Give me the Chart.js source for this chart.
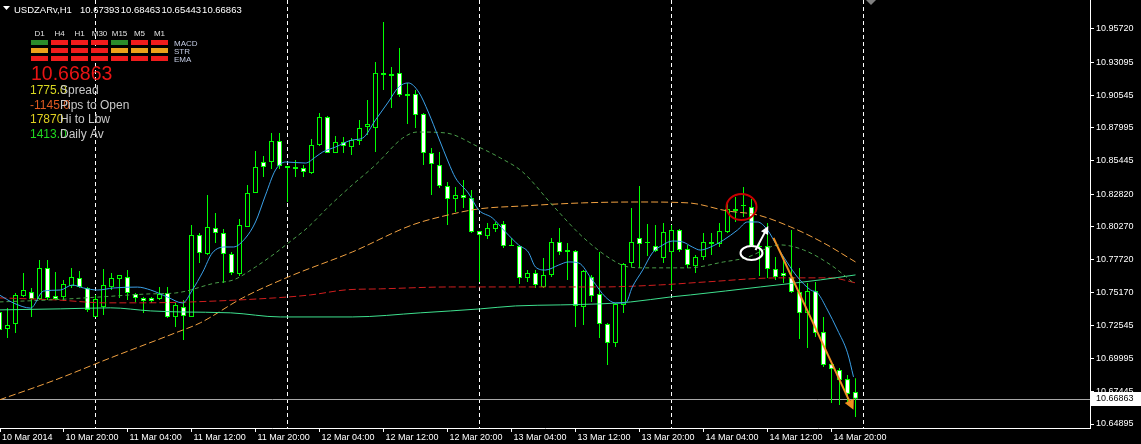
<!DOCTYPE html>
<html>
<head>
<meta charset="utf-8">
<script src="https://cdn.jsdelivr.net/npm/chart.js@4.4.1/dist/chart.umd.min.js"></script>
<style>
  html, body { margin: 0; padding: 0; background: #000; }
  #wrap { width: 1141px; height: 444px; }
</style>
</head>
<body>
<div id="wrap"><canvas id="chart" width="1141" height="444"></canvas></div>
<script>
// USDZARv H1, one value per hourly bar (bar 0 = 10 Mar 12:00)
const opens = [
  10.7363, 10.7231, 10.7270, 10.7488, 10.7519, 10.7465, 10.7707, 10.7488, 10.7480, 10.7566,
  10.7629, 10.7551, 10.7324, 10.7402, 10.7558, 10.7621, 10.7636, 10.7504, 10.7473, 10.7473,
  10.7465, 10.7512, 10.7324, 10.7402, 10.7324, 10.7964, 10.7816, 10.8019, 10.7980, 10.7816,
  10.7660, 10.8027, 10.8292, 10.8534, 10.8534, 10.8698, 10.8503, 10.8495, 10.8487, 10.8448,
  10.8667, 10.8885, 10.8604, 10.8690, 10.8651, 10.8698, 10.8807, 10.8799, 10.9229, 10.9221,
  10.9229, 10.9065, 10.9065, 10.8909, 10.8604, 10.8510, 10.8347, 10.8245, 10.8276, 10.8253,
  10.7995, 10.7956, 10.8011, 10.8050, 10.7886, 10.7878, 10.7629, 10.7668, 10.7558, 10.7652,
  10.7910, 10.7847, 10.7839, 10.7402, 10.7636, 10.7504, 10.7270, 10.7122, 10.7418, 10.7746,
  10.7941, 10.7910, 10.7878, 10.7785, 10.7831, 10.8003, 10.7855, 10.7722, 10.7792, 10.7910,
  10.7894, 10.7988, 10.8152, 10.8198, 10.8183, 10.7878, 10.7878, 10.7699, 10.7668, 10.7636,
  10.7519, 10.7355, 10.7527, 10.7207, 10.6957, 10.6911, 10.6840, 10.67393
];
const highs = [
  10.7457, 10.7394, 10.7512, 10.7668, 10.7551, 10.7769, 10.7769, 10.7675, 10.7613, 10.7707,
  10.7683, 10.7558, 10.7496, 10.7699, 10.7668, 10.7652, 10.7691, 10.7512, 10.7480, 10.7480,
  10.7558, 10.7558, 10.7434, 10.7457, 10.8042, 10.7980, 10.8276, 10.8136, 10.8011, 10.7831,
  10.8089, 10.8354, 10.8620, 10.8581, 10.8760, 10.8760, 10.8503, 10.8549, 10.8510, 10.8713,
  10.8916, 10.8893, 10.8737, 10.8729, 10.8721, 10.8862, 10.9018, 10.9314, 10.9626, 10.9275,
  10.9424, 10.9151, 10.9096, 10.8916, 10.8643, 10.8612, 10.8378, 10.8339, 10.8393, 10.8315,
  10.7995, 10.8058, 10.8066, 10.8073, 10.7941, 10.7886, 10.7691, 10.7691, 10.7785, 10.7941,
  10.8019, 10.7902, 10.7847, 10.7691, 10.7652, 10.7831, 10.7278, 10.7434, 10.7746, 10.8175,
  10.8347, 10.8050, 10.8042, 10.8058, 10.8042, 10.8011, 10.7886, 10.7808, 10.7980, 10.7980,
  10.8058, 10.8222, 10.8261, 10.8339, 10.8245, 10.7917, 10.8058, 10.7792, 10.7792, 10.8003,
  10.7707, 10.7590, 10.7598, 10.7324, 10.6965, 10.6926, 10.6872, 10.68463
];
const lows = [
  10.7160, 10.7160, 10.7200, 10.7480, 10.7324, 10.7457, 10.7457, 10.7457, 10.7449, 10.7551,
  10.7551, 10.7363, 10.7324, 10.7340, 10.7535, 10.7473, 10.7457, 10.7441, 10.7355, 10.7434,
  10.7457, 10.7317, 10.7246, 10.7145, 10.7324, 10.7746, 10.7808, 10.7902, 10.7590, 10.7652,
  10.7644, 10.8027, 10.8292, 10.8417, 10.8479, 10.8479, 10.8222, 10.8417, 10.8417, 10.8440,
  10.8659, 10.8604, 10.8604, 10.8604, 10.8588, 10.8667, 10.8745, 10.8612, 10.9096, 10.8955,
  10.9041, 10.8830, 10.8799, 10.8510, 10.8276, 10.8331, 10.8042, 10.8144, 10.8175, 10.7980,
  10.7598, 10.7933, 10.7988, 10.7863, 10.7878, 10.7582, 10.7598, 10.7551, 10.7551, 10.7636,
  10.7808, 10.7613, 10.7246, 10.7262, 10.7441, 10.7160, 10.6950, 10.7090, 10.7355, 10.7715,
  10.7707, 10.7800, 10.7831, 10.7746, 10.7535, 10.7831, 10.7707, 10.7668, 10.7769, 10.7808,
  10.7871, 10.7980, 10.8066, 10.8105, 10.7871, 10.7644, 10.7629, 10.7613, 10.7590, 10.7512,
  10.7153, 10.7082, 10.7168, 10.6934, 10.6653, 10.6638, 10.6653, 10.65443
];
const closes = [
  10.7223, 10.7262, 10.7496, 10.7535, 10.7465, 10.7707, 10.7473, 10.7465, 10.7582, 10.7636,
  10.7558, 10.7379, 10.7465, 10.7574, 10.7629, 10.7652, 10.7512, 10.7473, 10.7449, 10.7449,
  10.7504, 10.7324, 10.7418, 10.7332, 10.7964, 10.7824, 10.8027, 10.7980, 10.7816, 10.7668,
  10.8042, 10.8292, 10.8495, 10.8495, 10.8698, 10.8503, 10.8487, 10.8479, 10.8456, 10.8667,
  10.8885, 10.8604, 10.8690, 10.8659, 10.8706, 10.8799, 10.8830, 10.9229, 10.9213, 10.9205,
  10.9057, 10.9049, 10.8901, 10.8604, 10.8518, 10.8347, 10.8245, 10.8276, 10.8253, 10.7988,
  10.7964, 10.8019, 10.8050, 10.7878, 10.7878, 10.7629, 10.7668, 10.7574, 10.7652, 10.7910,
  10.7831, 10.7831, 10.7410, 10.7683, 10.7488, 10.7270, 10.7122, 10.7426, 10.7738, 10.7910,
  10.7894, 10.7902, 10.7839, 10.7988, 10.8003, 10.7847, 10.7730, 10.7792, 10.7910, 10.7894,
  10.7995, 10.8167, 10.8167, 10.8190, 10.7878, 10.7871, 10.7699, 10.7636, 10.7644, 10.7519,
  10.7355, 10.7527, 10.7200, 10.6950, 10.6918, 10.6833, 10.6724, 10.66863
];

const timeLabels = ['10 Mar 2014', '10 Mar 20:00', '11 Mar 04:00', '11 Mar 12:00', '11 Mar 20:00',
  '12 Mar 04:00', '12 Mar 12:00', '12 Mar 20:00', '13 Mar 04:00', '13 Mar 12:00', '13 Mar 20:00',
  '14 Mar 04:00', '14 Mar 12:00', '14 Mar 20:00'];
const timeTickBars = [0.0625, 8, 16, 24, 32, 40, 48, 56, 64, 72, 80, 88, 96, 104];
const priceTicks = [10.95720, 10.93095, 10.90545, 10.87995, 10.85445, 10.82820, 10.80270,
  10.77720, 10.75170, 10.72545, 10.69995, 10.67445, 10.64895];
const daySeparators = [12, 36, 60, 84, 108];
const lastPrice = 10.66863;
const headerValues = ['10.67393', '10.68463', '10.65443', '10.66863'];

// moving averages, read as [bar, price]
const maFast = [[0,10.7496],[1.75,10.7434],[3.9,10.7394],[5.5,10.7527],[7.6,10.7535],[9.1,10.7574],
  [10.5,10.7551],[12.25,10.7535],[14.25,10.7551],[17.25,10.7558],[18.9,10.7535],[21,10.7480],
  [22.9,10.7434],[24.1,10.7535],[25.4,10.7675],[26.6,10.7824],[28.25,10.7871],[29.25,10.7871],
  [30.75,10.7941],[32,10.8066],[33.25,10.8276],[34.5,10.8472],[35.75,10.8534],[38.25,10.8526],
  [39.5,10.8573],[40.4,10.8612],[42,10.8651],[44.1,10.8706],[45.4,10.8721],[47,10.8862],
  [48.6,10.9002],[49.9,10.9119],[51.1,10.9151],[52.4,10.9080],[53.6,10.8924],[54.9,10.8721],
  [56.1,10.8534],[57,10.8410],[58.6,10.8292],[59.9,10.8160],[61.6,10.8098],[63.25,10.7988],
  [64.9,10.7886],[66.1,10.7831],[67,10.7715],[68.25,10.7691],[69.9,10.7730],[71.1,10.7754],
  [72.4,10.7746],[74.1,10.7613],[75.75,10.7480],[77,10.7434],[78.25,10.7434],[79.1,10.7558],
  [80.4,10.7691],[81.6,10.7824],[82.9,10.7886],[84.1,10.7917],[85.4,10.7910],[86.6,10.7871],
  [87.6,10.7847],[88.9,10.7871],[90.5,10.7925],[92.25,10.8003],[93.5,10.8066],[94.75,10.8066],
  [96,10.8003],[97.25,10.7871],[98.5,10.7746],[99.75,10.7636],[101.4,10.7535],[102.25,10.7512],
  [103.5,10.7379],[104.75,10.7223],[106,10.7045],[106.75,10.6857]];
const maMid = [[0,10.7442],[6.4,10.7458],[12.6,10.7481],[18.9,10.7505],[22,10.7512],[27,10.7590],
  [29.25,10.7614],[32,10.7715],[34.5,10.7824],[36.1,10.7902],[38.6,10.8027],[41.1,10.8183],
  [44.1,10.8355],[47,10.8511],[50.4,10.8721],[52.25,10.8768],[55.75,10.8761],[59.9,10.8651],
  [62.6,10.8566],[65.4,10.8456],[69.1,10.8199],[72.9,10.7949],[76.6,10.7770],[78.6,10.7715],
  [80.75,10.7708],[86.1,10.7708],[90.5,10.7754],[93.25,10.7786],[97.6,10.7887],[100.5,10.7848],
  [103.9,10.7731],[106.75,10.7591]];
const maLong = [[0,10.7380],[7.6,10.7388],[13.9,10.7396],[18.9,10.7372],[22.6,10.7364],[28.9,10.7357],
  [35.1,10.7325],[44.1,10.7325],[52.6,10.7357],[60.1,10.7388],[64.5,10.7411],[70.1,10.7419],
  [75.1,10.7427],[78.9,10.7442],[83.9,10.7481],[86.4,10.7497],[95.1,10.7559],[102.6,10.7614],
  [107,10.7653]];
const maRed = [[0,10.7474],[7,10.7458],[13.25,10.7435],[17.6,10.7435],[23.9,10.7442],[34.5,10.7474],
  [38.9,10.7497],[43.25,10.7536],[47.6,10.7544],[56.4,10.7559],[65.1,10.7559],[75.1,10.7559],
  [82.6,10.7575],[88.25,10.7598],[97.6,10.7630],[103.9,10.7630],[107,10.7591]];
const maOrange = [[0,10.6678],[7,10.6834],[13.9,10.7006],[22,10.7201],[25.1,10.7279],[30.4,10.7474],
  [36.1,10.7637],[44.1,10.7832],[51.6,10.8043],[56.1,10.8121],[59.9,10.8168],[65.4,10.8191],
  [72.9,10.8215],[79.9,10.8222],[86.1,10.8215],[91,10.8152],[94.75,10.8121],[98.9,10.8027],
  [103,10.7903],[107,10.7754]];

// indicator panel
const tfLabels = ['D1', 'H4', 'H1', 'M30', 'M15', 'M5', 'M1'];
const signalNames = ['MACD', 'STR', 'EMA'];
const signalRows = [
  ['g', 'r', 'r', 'r', 'g', 'r', 'r'],
  ['o', 'r', 'r', 'r', 'o', 'o', 'o'],
  ['r', 'r', 'r', 'r', 'r', 'r', 'r']
];
const infoRows = [
  ['1775.0', 'Spread', '#d8d820'],
  ['-1145.0', 'Pips to Open', '#e05a20'],
  ['17870', 'Hi to Lbw', '#e0d020'],
  ['1413.0', 'Daily Av', '#20d820']
];

const FONT = '"Liberation Sans", Arial, sans-serif';
const bars = opens.map((o, i) => i);

function arrow(ctx, x1, y1, x2, y2, color, width, head) {
  const a = Math.atan2(y2 - y1, x2 - x1);
  ctx.strokeStyle = color;
  ctx.lineWidth = width;
  ctx.beginPath();
  ctx.moveTo(x1, y1);
  ctx.lineTo(x2 - Math.cos(a) * head * 0.8, y2 - Math.sin(a) * head * 0.8);
  ctx.stroke();
  ctx.fillStyle = color;
  ctx.beginPath();
  ctx.moveTo(x2, y2);
  ctx.lineTo(x2 - head * Math.cos(a) + head * 0.5 * Math.sin(a), y2 - head * Math.sin(a) - head * 0.5 * Math.cos(a));
  ctx.lineTo(x2 - head * Math.cos(a) - head * 0.5 * Math.sin(a), y2 - head * Math.sin(a) + head * 0.5 * Math.cos(a));
  ctx.closePath();
  ctx.fill();
}

const mt4Deco = {
  id: 'mt4Deco',
  beforeDatasetsDraw(chart) {
    const {ctx, chartArea, scales} = chart;
    ctx.save();
    // day separators
    ctx.strokeStyle = '#ffffff';
    ctx.lineWidth = 1;
    ctx.setLineDash([4, 3]);
    for (const b of daySeparators) {
      const x = Math.round(scales.x.getPixelForValue(b) - 0.5) + 0.5;
      ctx.beginPath();
      ctx.moveTo(x, chartArea.top);
      ctx.lineTo(x, chartArea.bottom);
      ctx.stroke();
    }
    ctx.setLineDash([]);
    // bid line
    const yb = Math.round(scales.y.getPixelForValue(lastPrice)) + 0.5;
    ctx.strokeStyle = '#a8a8a8';
    ctx.beginPath();
    ctx.moveTo(chartArea.left, yb);
    ctx.lineTo(chartArea.right, yb);
    ctx.stroke();
    ctx.restore();
  },
  afterDatasetsDraw(chart) {
    const {ctx, scales} = chart;
    const X = v => scales.x.getPixelForValue(v);
    const Y = v => scales.y.getPixelForValue(v);
    ctx.save();
    // red circle round the top
    ctx.strokeStyle = '#c80000';
    ctx.lineWidth = 2;
    ctx.beginPath();
    ctx.ellipse(X(92.75), Y(10.8183), 15, 13, 0, 0, Math.PI * 2);
    ctx.stroke();
    // white ellipse
    ctx.strokeStyle = '#ffffff';
    ctx.beginPath();
    ctx.ellipse(X(94), Y(10.7824), 11, 7, 0, 0, Math.PI * 2);
    ctx.stroke();
    arrow(ctx, X(94.5), Y(10.7848), X(96.1), Y(10.8035), '#ffffff', 2, 8);
    arrow(ctx, X(96.75), Y(10.7942), X(106.75), Y(10.6600), '#f09020', 2, 10);
    ctx.restore();
  },
  afterDraw(chart) {
    const {ctx, chartArea, scales} = chart;
    ctx.save();
    // header
    ctx.fillStyle = '#ffffff';
    ctx.beginPath();
    ctx.moveTo(3, 6); ctx.lineTo(10, 6); ctx.lineTo(6.5, 10); ctx.closePath();
    ctx.fill();
    ctx.font = '9.5px ' + FONT;
    ctx.textBaseline = 'alphabetic';
    ctx.fillText('USDZARv,H1', 14, 13);
    headerValues.forEach((t, i) => ctx.fillText(t, 80 + i * 40.7, 13));
    // chart shift marker
    ctx.fillStyle = '#808080';
    ctx.beginPath();
    ctx.moveTo(866, 0); ctx.lineTo(876, 0); ctx.lineTo(871, 5); ctx.closePath();
    ctx.fill();
    // signal panel
    const cols = {g: '#2a8c2a', r: '#f01c1c', o: '#eca21a'};
    ctx.font = '8px ' + FONT;
    ctx.textAlign = 'center';
    ctx.fillStyle = '#e0e0e0';
    tfLabels.forEach((t, i) => ctx.fillText(t, 39.5 + i * 20, 36));
    signalRows.forEach((row, r) => {
      row.forEach((c, i) => {
        ctx.fillStyle = cols[c];
        ctx.fillRect(31 + i * 20, 40 + r * 8, 17, 5);
      });
    });
    ctx.textAlign = 'left';
    ctx.fillStyle = '#c4cce4';
    signalNames.forEach((t, r) => ctx.fillText(t, 174, 45.5 + r * 8));
    ctx.font = '19.5px ' + FONT;
    ctx.fillStyle = '#e81414';
    ctx.fillText(headerValues[3], 31, 80);
    ctx.font = '12px ' + FONT;
    infoRows.forEach(([num, label, col], r) => {
      const y = 94 + r * 14.5;
      ctx.fillStyle = col;
      ctx.fillText(num, 30, y);
      ctx.fillStyle = '#c8c8c8';
      ctx.fillText(label, 60, y);
    });
    // current price box on the axis
    const yb = Math.round(scales.y.getPixelForValue(lastPrice));
    ctx.fillStyle = '#ffffff';
    ctx.fillRect(chartArea.right + 1, yb - 7, 1141 - chartArea.right - 1, 14);
    ctx.fillStyle = '#000000';
    ctx.font = '9px ' + FONT;
    ctx.textBaseline = 'middle';
    ctx.fillText(lastPrice.toFixed(5), chartArea.right + 6, yb);
    ctx.restore();
  }
};

const lineSet = (label, pts, color, dash, order) => ({
  type: 'line', label,
  data: pts.map(([x, y]) => ({x, y})),
  borderColor: color, borderWidth: 1, borderDash: dash,
  pointRadius: 0, cubicInterpolationMode: 'monotone', order
});

new Chart(document.getElementById('chart'), {
  type: 'bar',
  data: {
    datasets: [
      lineSet('EMA fast', maFast, '#3aa0e8', [], 1),
      lineSet('MA mid', maMid, '#4a9e4a', [4, 3], 1),
      lineSet('MA long', maLong, '#3ee08e', [], 1),
      lineSet('MA red', maRed, '#d01e1e', [7, 3], 1),
      lineSet('MA orange', maOrange, '#f0a040', [7, 3], 1),
      {
        type: 'bar', label: 'bodies',
        data: bars.map(i => ({x: i, y: [opens[i], closes[i]]})),
        backgroundColor: bars.map(i => closes[i] < opens[i] ? '#ffffff' : '#000000'),
        borderColor: '#00ff00', borderWidth: 1, borderSkipped: false,
        barThickness: 5, grouped: false, minBarLength: 1, inflateAmount: 0, order: 2
      },
      {
        type: 'bar', label: 'wicks',
        data: bars.map(i => ({x: i, y: [lows[i], highs[i]]})),
        backgroundColor: '#00ff00', borderWidth: 0,
        barThickness: 1, grouped: false, inflateAmount: 0, order: 3
      }
    ]
  },
  options: {
    responsive: false,
    animation: false,
    devicePixelRatio: 1,
    layout: {padding: 0},
    plugins: {legend: {display: false}, tooltip: {enabled: false}},
    scales: {
      x: {
        type: 'linear', offset: false,
        min: 0.0625, max: 0.0625 + 1090 / 8,
        grid: {offset: false, drawOnChartArea: false, drawTicks: true, tickLength: 4, color: '#ffffff'},
        border: {display: true, color: '#ffffff'},
        afterBuildTicks: s => { s.ticks = timeTickBars.map(v => ({value: v})); },
        afterFit: s => { s.height = 16; s.paddingLeft = 0; s.paddingRight = 0; },
        ticks: {
          autoSkip: false, maxRotation: 0, minRotation: 0, align: 'start', labelOffset: 2, padding: 0,
          color: '#ffffff', font: {family: FONT, size: 9},
          callback: (v, i) => timeLabels[i]
        }
      },
      y: {
        type: 'linear', position: 'right',
        min: 10.64583, max: 10.97983,
        grid: {drawOnChartArea: false, drawTicks: true, tickLength: 4, color: '#ffffff'},
        border: {display: true, color: '#ffffff'},
        afterBuildTicks: s => { s.ticks = priceTicks.map(v => ({value: v})); },
        afterFit: s => { s.width = 51; s.paddingTop = 0; s.paddingBottom = 0; },
        ticks: {
          autoSkip: false, padding: 2, color: '#ffffff', font: {family: FONT, size: 9},
          callback: v => v.toFixed(5)
        }
      }
    }
  },
  plugins: [mt4Deco]
});
</script>
</body>
</html>
